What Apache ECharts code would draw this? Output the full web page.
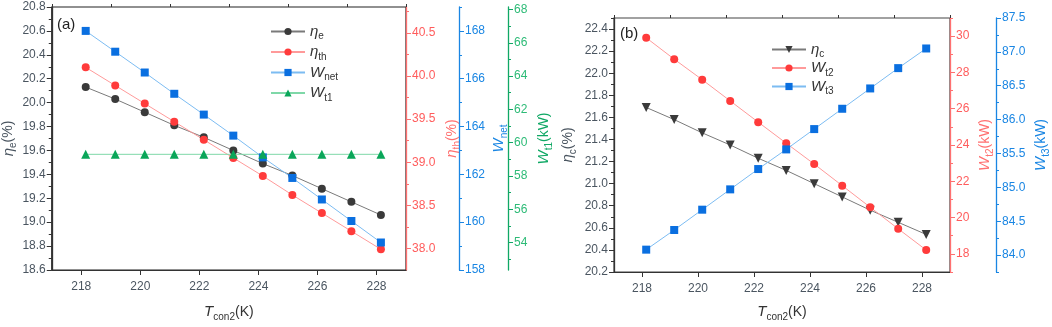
<!DOCTYPE html>
<html>
<head>
<meta charset="utf-8">
<script src="https://cdn.jsdelivr.net/npm/echarts@6/dist/echarts.min.js"></script>
<style>
  html, body { margin: 0; padding: 0; background: #fff; }
  #chart { width: 1052px; height: 327px; }
</style>
</head>
<body>
<div id="chart"></div>
<script>
// 冷凝温度 T_con2 (K)
var tempK = [218.15, 219.15, 220.15, 221.15, 222.15, 223.15, 224.15, 225.15, 226.15, 227.15, 228.15]

// (a) 图数据
var etaE = [20.13, 20.03, 19.92, 19.81, 19.71, 19.60, 19.49, 19.39, 19.28, 19.17, 19.06]
var etaTh = [40.10, 39.89, 39.68, 39.47, 39.26, 39.05, 38.84, 38.62, 38.41, 38.20, 37.99]
var wNet = [168.00, 167.13, 166.26, 165.37, 164.50, 163.62, 162.71, 161.85, 160.95, 160.05, 159.15]
var wT1 = [59.3, 59.3, 59.3, 59.3, 59.3, 59.3, 59.3, 59.3, 59.3, 59.3, 59.3]

// (b) 图数据
var etaC = [21.69, 21.58, 21.46, 21.35, 21.23, 21.12, 21.00, 20.88, 20.76, 20.65, 20.54]
var wT2 = [29.91, 28.73, 27.60, 26.43, 25.26, 24.10, 22.95, 21.76, 20.57, 19.38, 18.21]
var wT3 = [84.08, 84.37, 84.67, 84.97, 85.27, 85.56, 85.86, 86.16, 86.46, 86.76, 87.05]

// 刻度
var xMajor = [218, 220, 222, 224, 226, 228]
var xMinor = [217, 219, 221, 223, 225, 227, 229]
var etaEMajor = [18.6, 18.8, 19.0, 19.2, 19.4, 19.6, 19.8, 20.0, 20.2, 20.4, 20.6, 20.8]
var etaEMinor = [18.7, 18.9, 19.1, 19.3, 19.5, 19.7, 19.9, 20.1, 20.3, 20.5, 20.7]
var etaThMajor = [38.0, 38.5, 39.0, 39.5, 40.0, 40.5]
var etaThMinor = [38.25, 38.75, 39.25, 39.75, 40.25, 40.75]
var wNetMajor = [158, 160, 162, 164, 166, 168]
var wNetMinor = [159, 161, 163, 165, 167, 169]
var wT1Major = [54, 56, 58, 60, 62, 64, 66, 68]
var wT1Minor = [53, 55, 57, 59, 61, 63, 65, 67]
var etaCMajor = [20.2, 20.4, 20.6, 20.8, 21.0, 21.2, 21.4, 21.6, 21.8, 22.0, 22.2, 22.4]
var etaCMinor = [20.3, 20.5, 20.7, 20.9, 21.1, 21.3, 21.5, 21.7, 21.9, 22.1, 22.3, 22.5]
var wT2Major = [18, 20, 22, 24, 26, 28, 30]
var wT2Minor = [17, 19, 21, 23, 25, 27, 29, 31]
var wT3Major = [84.0, 84.5, 85.0, 85.5, 86.0, 86.5, 87.0, 87.5]
var wT3Minor = [83.75, 84.25, 84.75, 85.25, 85.75, 86.25, 86.75, 87.25]

var FONT = 'Liberation Sans'
var BLACK = '#3a3a3a', RED = '#ff3b3b', BLUE = '#0a6fe0', GREEN = '#0aa659'

var rich = function (color) {
  return {
    i: { fontSize: 15, fontStyle: 'italic', fontFamily: FONT, color: color, lineHeight: 20, verticalAlign: 'middle' },
    s: { fontSize: 10, fontFamily: FONT, color: color, lineHeight: 11, verticalAlign: 'bottom' },
    n: { fontSize: 14, fontFamily: FONT, color: color, lineHeight: 20, verticalAlign: 'middle' },
  }
}

var pts = function (arr) {
  return tempK.map(function (t, i) { return [t, arr[i]] })
}

// x 轴（主刻度 + 次刻度）
function xAxes(g, gap) {
  return [
    {
      type: 'value', gridIndex: g, min: 217, max: 229,
      name: '{i|T}{s|con2}{n|(K)}', nameLocation: 'middle', nameGap: gap,
      nameTextStyle: { rich: rich('#333') },
      axisLine: { lineStyle: { color: '#333', width: 1.2 } },
      axisTick: { customValues: xMajor, length: 5, lineStyle: { color: '#333' } },
      axisLabel: { customValues: xMajor, color: '#4a5560', fontSize: 12, fontFamily: FONT, margin: 11 },
      splitLine: { show: false },
    },
    {
      type: 'value', gridIndex: g, min: 217, max: 229,
      axisLine: { show: false },
      axisTick: { customValues: xMinor, length: 3, lineStyle: { color: '#333' } },
      axisLabel: { show: false },
      splitLine: { show: false },
    },
  ]
}

// y 轴（主刻度 + 次刻度）
function yAxes(o) {
  var main = {
    type: 'value', gridIndex: o.g, position: o.pos, offset: o.offset || 0,
    min: o.min, max: o.max,
    name: o.name, nameLocation: 'middle', nameGap: o.gap,
    nameTextStyle: { rich: rich(o.nameColor || o.color) },
    axisLine: { show: true, lineStyle: { color: o.color, width: 1.3 } },
    axisTick: { customValues: o.major, length: 5, lineStyle: { color: o.color } },
    axisLabel: {
      customValues: o.major, color: o.labelColor || o.color, fontSize: 12, fontFamily: FONT, margin: 6,
      formatter: function (v) { return o.dec ? v.toFixed(o.dec) : String(v) },
    },
    splitLine: { show: false },
  }
  var minor = {
    type: 'value', gridIndex: o.g, position: o.pos, offset: o.offset || 0,
    min: o.min, max: o.max,
    axisLine: { show: false },
    axisTick: { customValues: o.minor, length: 3, lineStyle: { color: o.color } },
    axisLabel: { show: false },
    splitLine: { show: false },
  }
  return [main, minor]
}

var yList = [].concat(
  yAxes({ g: 0, pos: 'left', min: 18.6, max: 20.8, major: etaEMajor, minor: etaEMinor, dec: 1,
    color: '#333', labelColor: '#4a5560', nameColor: '#4a5560', name: '{i|η}{s|e}{n|(%)}', gap: 32 }),
  yAxes({ g: 0, pos: 'right', min: 37.75, max: 40.8, major: etaThMajor, minor: etaThMinor, dec: 1,
    color: '#ff7070', labelColor: '#ff5c5c', name: '{i|η}{s|th}{n|(%)}', gap: 36 }),
  yAxes({ g: 0, pos: 'right', offset: 53, min: 158, max: 169, major: wNetMajor, minor: wNetMinor,
    color: '#1a86e3', name: '{i|W}{s|net}', gap: 30 }),
  yAxes({ g: 0, pos: 'right', offset: 102, min: 52.35, max: 68.15, major: wT1Major, minor: wT1Minor,
    color: '#10a865', labelColor: '#2dbb77', name: '{i|W}{s|t1}{n|(kW)}', gap: 26 }),
  yAxes({ g: 1, pos: 'left', min: 20.2, max: 22.5, major: etaCMajor, minor: etaCMinor, dec: 1,
    color: '#333', labelColor: '#4a5560', nameColor: '#4a5560', name: '{i|η}{s|c}{n|(%)}', gap: 36 }),
  yAxes({ g: 1, pos: 'right', min: 17, max: 31, major: wT2Major, minor: wT2Minor,
    color: '#ff7070', labelColor: '#ff5c5c', name: '{i|W}{s|t2}{n|(kW)}', gap: 25 }),
  yAxes({ g: 1, pos: 'right', offset: 46, min: 83.75, max: 87.5, major: wT3Major, minor: wT3Minor, dec: 1,
    color: '#1a86e3', name: '{i|W}{s|t3}{n|(kW)}', gap: 35 })
)
// yList 下标: 0 ηe, 2 ηth, 4 Wnet, 6 Wt1, 8 ηc, 10 Wt2, 12 Wt3

function line(name, x, y, data, color, lineColor, symbol, size, rotate) {
  return {
    name: name, type: 'line', xAxisIndex: x, yAxisIndex: y, data: pts(data),
    symbol: symbol, symbolSize: size, symbolRotate: rotate || 0,
    itemStyle: { color: color },
    lineStyle: { color: lineColor, width: 1 },
    z: 3,
  }
}

var legendNames = {
  'ηe': '{i|η}{s|e}', 'ηth': '{i|η}{s|th}', 'Wnet': '{i|W}{s|net}', 'Wt1': '{i|W}{s|t1}',
  'ηc': '{i|η}{s|c}', 'Wt2': '{i|W}{s|t2}', 'Wt3': '{i|W}{s|t3}',
}

var chart = echarts.init(document.getElementById('chart'))
var option = {
  animation: false,
  title: [
    { text: '(a)', left: 52, top: 12, textStyle: { fontSize: 15, fontWeight: 'normal', color: '#222', fontFamily: FONT } },
    { text: '(b)', left: 615, top: 21, textStyle: { fontSize: 15, fontWeight: 'normal', color: '#222', fontFamily: FONT } },
  ],
  grid: [
    { left: 50, top: 7, width: 356, height: 271, show: true, borderColor: '#222', borderWidth: 1.2 },
    { left: 614, top: 18, width: 342, height: 262.5, show: true, borderColor: '#444', borderWidth: 1.2 },
  ],
  legend: [
    {
      data: ['ηe', 'ηth', 'Wnet', 'Wt1'], orient: 'vertical', left: 265, top: 19,
      itemWidth: 34, itemHeight: 9, itemGap: 3,
      formatter: function (n) { return legendNames[n] },
      textStyle: { rich: rich('#333') },
    },
    {
      data: ['ηc', 'Wt2', 'Wt3'], orient: 'vertical', left: 766, top: 37,
      itemWidth: 34, itemHeight: 9, itemGap: 1,
      formatter: function (n) { return legendNames[n] },
      textStyle: { rich: rich('#333') },
    },
  ],
  xAxis: [].concat(xAxes(0, 32), xAxes(1, 30)),
  yAxis: yList,
  series: [
    line('ηe', 0, 0, etaE, BLACK, '#7a7a7a', 'circle', 8),
    line('ηth', 0, 2, etaTh, RED, '#ff9a9a', 'circle', 8),
    line('Wnet', 0, 4, wNet, BLUE, '#7cbcf2', 'rect', 8),
    line('Wt1', 0, 6, wT1, GREEN, '#7fd8a8', 'triangle', 9),
    line('ηc', 2, 8, etaC, BLACK, '#7a7a7a', 'triangle', 9, 180),
    line('Wt2', 2, 10, wT2, RED, '#ff9a9a', 'circle', 8),
    line('Wt3', 2, 12, wT3, BLUE, '#7cbcf2', 'rect', 8),
  ],
}
chart.setOption(option)
</script>
</body>
</html>
